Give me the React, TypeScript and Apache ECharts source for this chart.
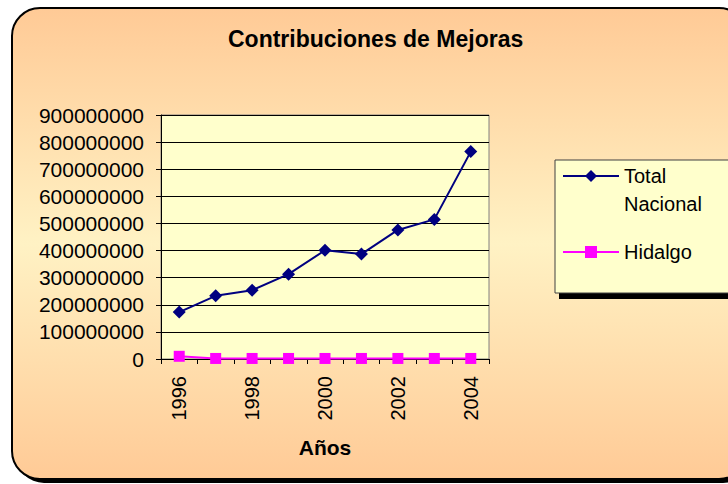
import React, { useEffect, useRef } from "react";
import * as echarts from "echarts";

const years = ["1996", "1997", "1998", "1999", "2000", "2001", "2002", "2003", "2004"];
const totalNacional = [173000000, 233000000, 254000000, 313000000, 401000000, 387000000, 476000000, 515000000, 765000000];
const hidalgo = [10000000, 2000000, 2000000, 2000000, 2000000, 2000000, 2000000, 2000000, 2000000];
const yTicks = { min: 0, max: 900000000, interval: 100000000 };

const FONT = "'Liberation Sans', Arial, sans-serif";

export default function App() {
  const ref = useRef<HTMLDivElement>(null);
  useEffect(() => {
    document.body.style.margin = "0";
    const chart = echarts.init(ref.current!, undefined, { renderer: "svg" });
    chart.setOption({
      animation: false,
      graphic: [
        { type: "rect", z: -10, shape: { x: 16, y: 12, width: 735, height: 471, r: 28 }, style: { fill: "#000" } },
        {
          type: "rect", z: -9,
          shape: { x: 12, y: 8, width: 735, height: 471, r: 28 },
          style: {
            fill: new echarts.graphic.LinearGradient(0, 0, 0, 1, [
              { offset: 0, color: "#FFCA96" },
              { offset: 0.5, color: "#FFF2C4" },
              { offset: 1, color: "#FFCA96" },
            ]),
            stroke: "#000", lineWidth: 2,
          },
        },
        { type: "rect", z: -8, shape: { x: 559, y: 166, width: 200, height: 133 }, style: { fill: "#000" } },
        { type: "rect", z: -7, shape: { x: 555, y: 160, width: 200, height: 133 }, style: { fill: "#FFFFCC", stroke: "#404040", lineWidth: 1 } },
      ],
      title: {
        text: "Contribuciones de Mejoras",
        left: 223, top: 22,
        textStyle: { fontFamily: FONT, fontSize: 23, fontWeight: "bold", color: "#000" },
      },
      legend: [
        {
          data: ["Total Nacional"], orient: "vertical", left: 562, top: 134, padding: 0,
          itemWidth: 56, itemHeight: 15, itemGap: 5,
          formatter: () => " \nTotal\nNacional",
          textStyle: { fontFamily: FONT, fontSize: 20, color: "#000", lineHeight: 28 },
        },
        {
          data: ["Hidalgo"], orient: "vertical", left: 562, top: 242, padding: 0,
          itemWidth: 56, itemHeight: 15, itemGap: 5,
          textStyle: { fontFamily: FONT, fontSize: 20, color: "#000" },
        },
      ],
      grid: {
        left: 161, top: 115, right: 239, bottom: 125,
        show: true, backgroundColor: "#FFFFCC", borderColor: "#808080", borderWidth: 1,
      },
      xAxis: {
        type: "category", data: years, boundaryGap: true,
        name: "Años", nameLocation: "middle", nameGap: 78,
        nameTextStyle: { fontFamily: FONT, fontSize: 21, fontWeight: "bold", color: "#000" },
        axisLine: { lineStyle: { color: "#000", width: 1 } },
        axisTick: { show: true, length: 5, alignWithLabel: false, interval: 0, lineStyle: { color: "#000" } },
        axisLabel: { interval: 1, rotate: 90, margin: 17, fontFamily: FONT, fontSize: 20, color: "#000" },
      },
      yAxis: {
        type: "value", ...yTicks,
        axisLine: { show: true, lineStyle: { color: "#000", width: 1 } },
        axisTick: { show: true, length: 5, lineStyle: { color: "#000" } },
        splitLine: { show: true, lineStyle: { color: "#000", width: 1 } },
        axisLabel: { margin: 17, fontFamily: FONT, fontSize: 21, color: "#000", formatter: (v: number) => String(v) },
      },
      series: [
        {
          name: "Total Nacional", type: "line", data: totalNacional,
          symbol: "diamond", symbolSize: 13,
          lineStyle: { color: "#000080", width: 2 }, itemStyle: { color: "#000080" },
        },
        {
          name: "Hidalgo", type: "line", data: hidalgo,
          symbol: "rect", symbolSize: 11,
          lineStyle: { color: "#FF00FF", width: 2 }, itemStyle: { color: "#FF00FF" },
        },
      ],
    });
    return () => chart.dispose();
  }, []);
  return <div ref={ref} style={{ width: 728, height: 484 }} />;
}
